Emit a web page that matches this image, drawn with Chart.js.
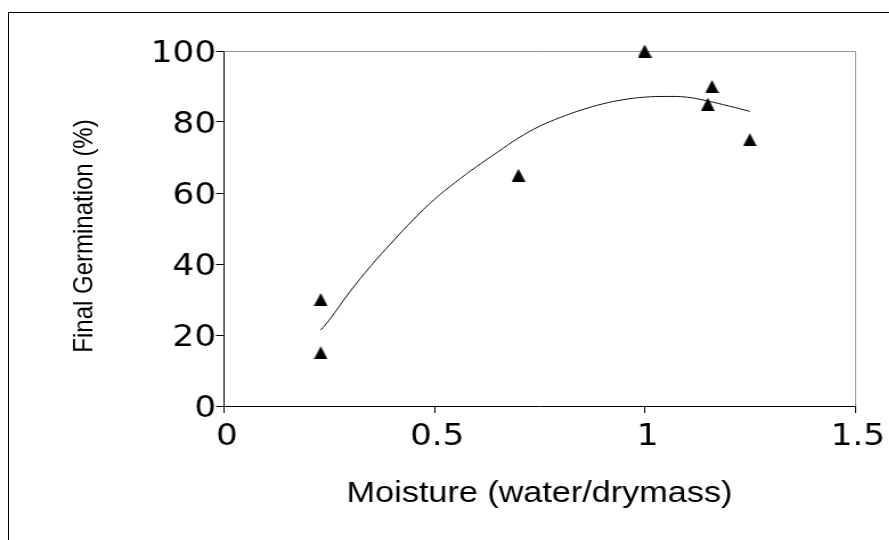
<!DOCTYPE html>
<html>
<head>
<meta charset="utf-8">
<script src="https://cdn.jsdelivr.net/npm/chart.js@4/dist/chart.umd.min.js"></script>
<style>
  html, body { margin: 0; padding: 0; background: #fff; overflow: hidden; }
  body { width: 889px; height: 540px; position: relative; }
  #frame { position: absolute; left: 8px; top: 12px; width: 2000px; height: 2000px; border: 1px solid #000; }
  #wrap { position: absolute; left: 0; top: 0; width: 780px; height: 540px; transform: scaleX(1.14); transform-origin: 0 0; }
</style>
</head>
<body>
<div id="frame"></div>
<div id="wrap"><canvas id="germChart" width="780" height="540"></canvas></div>
<script>
// measured samples
let moisture = [0.23, 0.23, 0.70, 1.00, 1.15, 1.16, 1.25];
let germination = [30, 15, 65, 100, 85, 90, 75];

// fitted curve, read at fixed moisture steps
let trendX = [0.23, 0.25, 0.30, 0.35, 0.40, 0.45, 0.50, 0.55, 0.60, 0.65, 0.70, 0.75, 0.80, 0.85, 0.90, 0.95, 1.00, 1.05, 1.10, 1.15, 1.20, 1.25];
let trendY = [21.4, 24.2, 32.3, 39.6, 46.2, 52.5, 58.2, 63.0, 67.4, 71.5, 75.5, 78.8, 81.3, 83.4, 85.1, 86.3, 87.0, 87.2, 87.0, 85.9, 84.5, 83.0];

let xTitle = "Moisture (water/drymass)";
let yTitle = "Final Germination (%)";

// solid triangle marker, centred on its box
function makeTriangle(w, h){
  let c = document.createElement("canvas");
  c.width = w;
  c.height = h;
  let g = c.getContext("2d");
  g.fillStyle = "#000";
  g.beginPath();
  g.moveTo(w / 2, 0);
  g.lineTo(w, h);
  g.lineTo(0, h);
  g.closePath();
  g.fill();
  return c;
}

// gray top + right edges of the plot box
let plotFrame = {
  id: "plotFrame",
  beforeDatasetsDraw(chart){
    let a = chart.chartArea;
    let ctx = chart.ctx;
    let top = Math.round(a.top) + 0.5;
    let right = Math.round(a.right) + 0.5;
    ctx.save();
    ctx.strokeStyle = "#999";
    ctx.lineWidth = 1;
    ctx.beginPath();
    ctx.moveTo(a.left, top);
    ctx.lineTo(right, top);
    ctx.lineTo(right, a.bottom);
    ctx.stroke();
    ctx.restore();
  }
};

// y axis title sits a little below the plot's middle
let yAxisTitle = {
  id: "yAxisTitle",
  afterDraw(chart){
    let ctx = chart.ctx;
    ctx.save();
    ctx.translate(74.4, 236);
    ctx.rotate(-Math.PI / 2);
    ctx.font = "24px 'Liberation Sans', Arial, sans-serif";
    ctx.fillStyle = "#000";
    ctx.textAlign = "center";
    ctx.textBaseline = "middle";
    ctx.fillText(yTitle, 0, 0);
    ctx.restore();
  }
};

let tickFont = { family: "'DejaVu Sans', sans-serif", size: 30 };

let chart = new Chart(document.getElementById("germChart"), {
  type: "scatter",
  data: {
    datasets: [
      {
        label: "Germination",
        data: moisture.map((x, i) => ({ x, y: germination[i] })),
        pointStyle: makeTriangle(12, 13),
        pointRadius: 6,
        showLine: false,
        clip: false,
        order: 0
      },
      {
        label: "Trend",
        data: trendX.map((x, i) => ({ x, y: trendY[i] })),
        showLine: true,
        borderColor: "#111",
        borderWidth: 1,
        pointRadius: 0,
        tension: 0.4,
        fill: false,
        clip: false,
        order: 1
      }
    ]
  },
  options: {
    responsive: false,
    animation: false,
    events: [],
    layout: { padding: { left: 0, top: 51, right: 30, bottom: 0 } },
    plugins: {
      legend: { display: false },
      tooltip: { enabled: false }
    },
    scales: {
      x: {
        type: "linear",
        min: 0,
        max: 1.5,
        ticks: {
          stepSize: 0.5,
          color: "#000",
          font: tickFont,
          padding: 6,
          labelOffset: 2.5,
          maxRotation: 0,
          callback: v => String(v)
        },
        grid: { drawOnChartArea: false, drawTicks: true, tickLength: 7, tickColor: "#000" },
        border: { color: "#000", width: 1 },
        title: {
          display: true,
          text: xTitle,
          color: "#000",
          font: { family: "'Liberation Sans', Arial, sans-serif", size: 30 },
          padding: { top: 0, bottom: 28 }
        },
        afterFit(scale){ scale.height = 134; }
      },
      y: {
        type: "linear",
        min: 0,
        max: 100,
        ticks: { stepSize: 20, color: "#000", font: tickFont, padding: 0, labelOffset: 3.5 },
        grid: { drawOnChartArea: false, drawTicks: true, tickLength: 7, tickColor: "#000" },
        border: { color: "#000", width: 1 },
        afterFit(scale){ scale.width = 196.5; }
      }
    }
  },
  plugins: [plotFrame, yAxisTitle]
});
</script>
</body>
</html>
